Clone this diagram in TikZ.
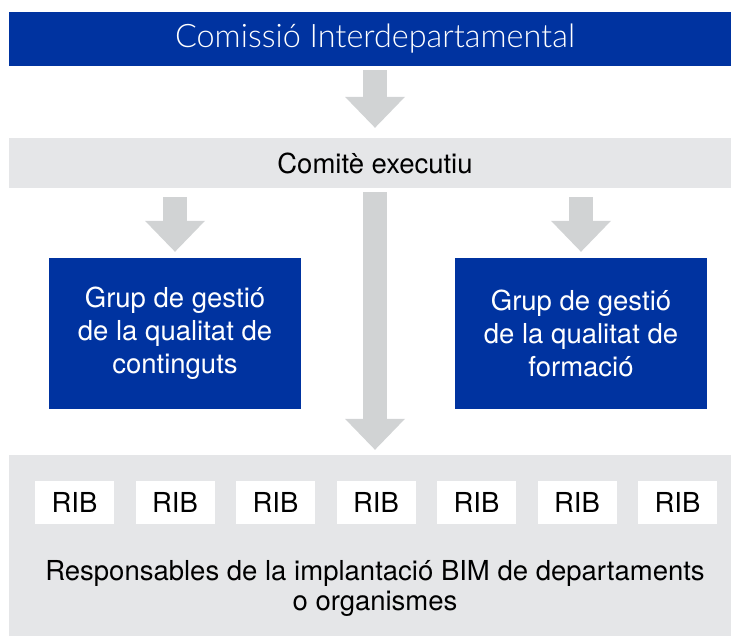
\documentclass[tikz,border=0pt]{standalone}
\usepackage{fontspec}
\setmainfont{TeX Gyre Heros}
\newfontfamily\lightfont{Lato}[UprightFont=* Light]
\usetikzlibrary{arrows.meta}

\definecolor{gencatblue}{RGB}{0,51,160}
\definecolor{barGrey}{RGB}{229,230,232}
\definecolor{arrowGrey}{RGB}{209,211,212}

\tikzset{
  topbar/.style={fill=gencatblue,text=white,minimum width=732pt,minimum height=54pt,inner sep=0pt},
  greybar/.style={fill=barGrey,minimum width=732pt,inner sep=0pt},
  bluebox/.style={fill=gencatblue,text=white,minimum width=252pt,minimum height=151pt,
    align=center,font=\fontsize{27.5}{33}\selectfont},
  ribbox/.style={fill=white,minimum width=79pt,minimum height=43pt,inner sep=0pt,
    font=\fontsize{27.5}{33}\selectfont},
  blockarrow/.style={draw=arrowGrey,line width=24pt,
    -{Triangle[width=60pt,length=31pt,line width=0pt]}}
}

\begin{document}
\begin{tikzpicture}[x=1pt,y=-1pt]
            \useasboundingbox (0,0) rectangle (731,636);
            \node[topbar,font=\lightfont\fontsize{32.4}{38}\selectfont] at (375,39) (comissio) {Comissió Interdepartamental};
            \node[greybar,minimum height=50pt,font=\fontsize{27.5}{33}\selectfont] at (375,163) (comite) {Comitè executiu};
            \node[bluebox] at (175,333.5) (grupA) {Grup de gestió\\de la qualitat de\\continguts};
            \node[bluebox] at (581,333.5) (grupB) {Grup de gestió\\de la qualitat de\\formació};
            \node[greybar,minimum height=181pt] at (375,545.5) (rib) {};
            \foreach \i in {0,...,6}
                \node[ribbox] at (74.5+100.5*\i,502.5) (rib\i) {RIB};
            \node[align=center,inner sep=0pt,font=\fontsize{27.5}{30}\selectfont] at (375,588) (resp)
                {Responsables de la implantació BIM de departaments\\o organismes};
            \draw[blockarrow,shorten <=4pt,shorten >=10pt] (comissio.south) to (comite.north);
            \draw[blockarrow,shorten <=9pt,shorten >=6pt] (comite.south -| grupA.north) to (grupA.north);
            \draw[blockarrow,shorten <=9pt,shorten >=6pt] (comite.south -| grupB.north) to (grupB.north);
            \draw[blockarrow,shorten <=4pt,shorten >=5pt] (comite.south) to (rib.north);
        \end{tikzpicture}
\end{document}
